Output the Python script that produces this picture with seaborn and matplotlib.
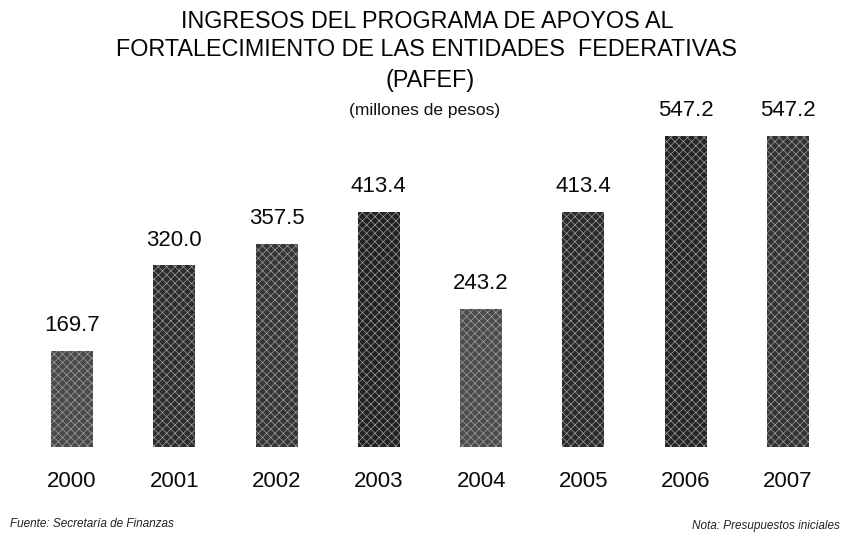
import matplotlib
matplotlib.use("Agg")
import matplotlib.pyplot as plt
import seaborn as sns
import pandas as pd

years = ["2000", "2001", "2002", "2003", "2004", "2005", "2006", "2007"]
values = [169.7, 320.0, 357.5, 413.4, 243.2, 413.4, 547.2, 547.2]
value_labels = ["169.7", "320.0", "357.5", "413.4", "243.2", "413.4", "547.2", "547.2"]
bar_colors = ["#4a4a4a", "#2e2e2e", "#363636", "#222222", "#4c4c4c", "#2b2b2b", "#262626", "#333333"]

title1 = "INGRESOS DEL PROGRAMA DE APOYOS AL"
title2 = "FORTALECIMIENTO DE LAS ENTIDADES  FEDERATIVAS"
title3 = "(PAFEF)"
subtitle = "(millones de pesos)"
source = "Fuente: Secretaría de Finanzas"
note = "Nota: Presupuestos iniciales"

sns.set_theme(style="white")
plt.rcParams["font.family"] = ["Liberation Sans", "DejaVu Sans"]
plt.rcParams["hatch.linewidth"] = 0.45

W, H = 842, 533
fig = plt.figure(figsize=(W / 100, H / 100), dpi=100)
fig.patch.set_facecolor("white")

base_px = 447
ax = fig.add_axes([0, (H - base_px) / H, 1, base_px / H])
ax.set_facecolor("white")

df = pd.DataFrame({"year": years, "value": values})
sns.barplot(data=df, x="year", y="value", hue="year", palette=bar_colors,
            legend=False, width=0.41, ax=ax, saturation=1, linewidth=0)

for p in ax.patches:
    p.set_hatch("xxxx")
    p.set_edgecolor("#a8a8a8")
    p.set_linewidth(0)

px_per_unit = 102.29
ax.set_xlim(-72 / px_per_unit, 7 + (W - 788) / px_per_unit)
ax.set_ylim(0, base_px / 0.5685)

for i, (v, lab) in enumerate(zip(values, value_labels)):
    ax.annotate(lab, xy=(i, v), xytext=(0, 18), textcoords="offset points",
                ha="center", va="center", fontsize=16, color="#0a0a0a")

ax.set_xticks(range(len(years)))
ax.set_xticklabels(years, fontsize=16, color="#0a0a0a")
ax.tick_params(axis="x", length=0, pad=17)
ax.set_yticks([])
ax.set_xlabel("")
ax.set_ylabel("")
for s in ax.spines.values():
    s.set_visible(False)

fig.text(427 / W, 1 - 21 / H, title1, ha="center", va="center", fontsize=16.8, color="#050505")
fig.text(426 / W, 1 - 50 / H, title2, ha="center", va="center", fontsize=16.8, color="#050505")
fig.text(430 / W, 1 - 80 / H, title3, ha="center", va="center", fontsize=16.8, color="#050505")
fig.text(425 / W, 1 - 111 / H, subtitle, ha="center", va="center", fontsize=12.5, color="#111111")
fig.text(10 / W, 1 - 524 / H, source, ha="left", va="center", fontsize=8.5, style="italic", color="#222222")
fig.text(840 / W, 1 - 526 / H, note, ha="right", va="center", fontsize=8.5, style="italic", color="#222222")

fig.savefig("out.png", dpi=100, facecolor="white")
